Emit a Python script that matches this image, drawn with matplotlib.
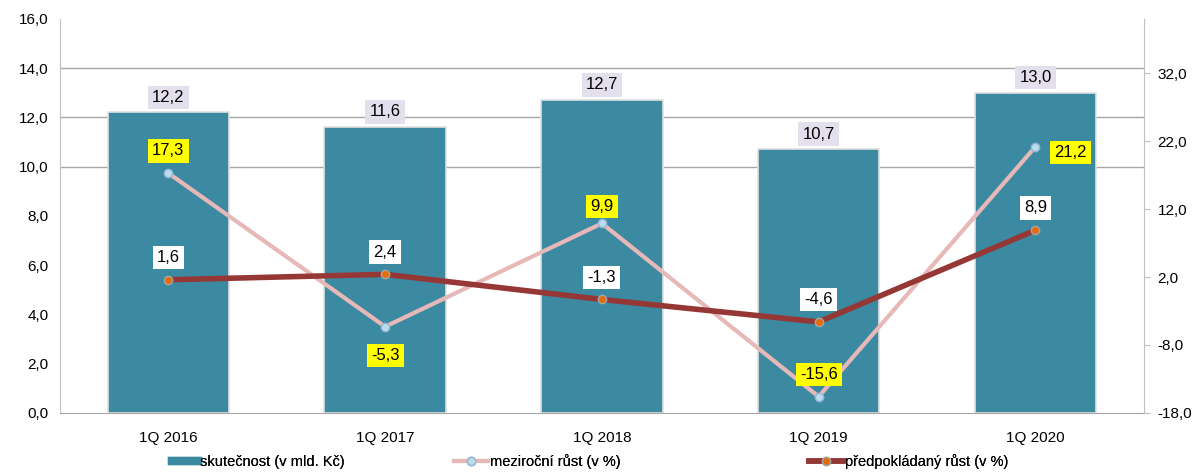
import numpy as np
import matplotlib.pyplot as plt
from matplotlib.lines import Line2D

plt.rcParams['font.family'] = ['Liberation Sans', 'DejaVu Sans']

categories = ['1Q 2016', '1Q 2017', '1Q 2018', '1Q 2019', '1Q 2020']
skutecnost = [12.2, 11.6, 12.7, 10.7, 13.0]
mezirocni = [17.3, -5.3, 9.9, -15.6, 21.2]
predpoklad = [1.6, 2.4, -1.3, -4.6, 8.9]

bar_col = '#3B8AA1'
pink = '#E6B9B8'
darkred = '#953735'


def fmt(v):
    return f'{v:.1f}'.replace('.', ',')


fig = plt.figure(figsize=(11.99, 4.73), dpi=100)
ax = fig.add_axes([0.05, 0.127, 0.904, 0.833])
ax2 = ax.twinx()

x = np.arange(len(categories))
ax.bar(x, skutecnost, width=0.56, color=bar_col, edgecolor='#E0E0E0', linewidth=1.2, zorder=2)
for xi, v in zip(x, skutecnost):
    ax.annotate(fmt(v), (xi, v), xytext=(0, 11), textcoords='offset points', ha='center', va='center',
                fontsize=12, bbox=dict(boxstyle='square,pad=0.25', fc='#E4DFEC', ec='none'))

ax.set_xlim(-0.5, 4.5)
ax.set_ylim(0, 16)
ax.set_yticks(np.arange(0, 17, 2))
ax.set_yticklabels([fmt(v) for v in np.arange(0, 17, 2)], fontsize=11)
ax.set_xticks(x)
ax.set_xticklabels(categories, fontsize=11)
ax.tick_params(axis='y', length=0, pad=8)
ax.tick_params(axis='x', length=0, pad=13)
for yg in [10, 12, 14]:
    ax.axhline(yg, color='#A6A6A6', lw=1, zorder=1)
for s in ['top', 'right']:
    ax.spines[s].set_visible(False)
ax.spines['left'].set_color('#BFBFBF')
ax.spines['bottom'].set_color('#A6A6A6')

ax2.plot(x, mezirocni, color=pink, lw=3, marker='o', ms=6, mfc='#B7DEE8', mec='#95B3D7', zorder=3)
ax2.plot(x, predpoklad, color=darkred, lw=4, marker='o', ms=6, mfc='#E46C0A', mec='#A6A6A6', zorder=4)
ax2.set_ylim(-18, 40)
rt = np.arange(-18, 33, 10)
ax2.set_yticks(rt)
ax2.set_yticklabels([fmt(v) for v in rt], fontsize=11)
ax2.tick_params(axis='y', length=4, color='#BFBFBF', pad=6)
for s in ['top', 'left', 'bottom']:
    ax2.spines[s].set_visible(False)
ax2.spines['right'].set_color('#BFBFBF')

yoy_off = [(0, 16), (0, -21), (0, 12), (0, 16), (25, -4)]
for xi, v, off in zip(x, mezirocni, yoy_off):
    ax2.annotate(fmt(v), (xi, v), xytext=off, textcoords='offset points', ha='center', va='center',
                 fontsize=12, bbox=dict(boxstyle='square,pad=0.25', fc='#FFFF00', ec='none'), zorder=6)
for xi, v in zip(x, predpoklad):
    ax2.annotate(fmt(v), (xi, v), xytext=(0, 16), textcoords='offset points', ha='center', va='center',
                 fontsize=12, bbox=dict(boxstyle='square,pad=0.25', fc='white', ec='none'), zorder=6)

# legend entries placed one by one like the Excel legend
entries = [
    (Line2D([], [], color=bar_col, lw=6), 'skutečnost (v mld. Kč)', 1.8, 172),
    (Line2D([], [], color=pink, lw=3, marker='o', ms=6, mfc='#B7DEE8', mec='#95B3D7'),
     'meziroční růst (v %)', 2.3, 454),
    (Line2D([], [], color=darkred, lw=4, marker='o', ms=6, mfc='#E46C0A', mec='#A6A6A6'),
     'předpokládaný růst (v %)', 2.3, 809),
]
for h, lab, hl, px in entries:
    leg = fig.legend([h], [lab], loc='center left', bbox_to_anchor=(px / 1199, 0.024), frameon=False,
                     fontsize=10.5, handlelength=hl, handletextpad=0.15, borderpad=0, borderaxespad=0)
    fig.add_artist(leg)

fig.savefig('out.png', dpi=100)
